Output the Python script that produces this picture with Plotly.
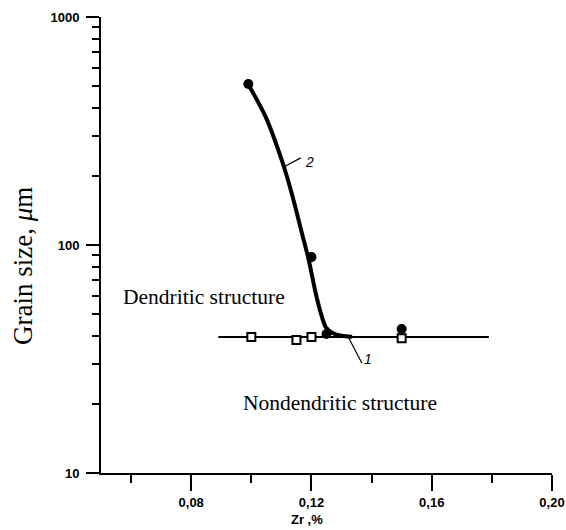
import plotly.graph_objects as go

# ---- data ----
zr_squares = [0.100, 0.115, 0.120, 0.150]
size_squares = [39.5, 38.3, 39.5, 39.0]

zr_circles = [0.099, 0.120, 0.125, 0.150]
size_circles = [508, 88.5, 40.7, 42.8]

line1_zr = [0.089, 0.179]
line1_size = [39.5, 39.5]

curve2_zr = [0.0991, 0.1048, 0.1101, 0.1134, 0.1168, 0.1191, 0.1214, 0.1231, 0.1248, 0.1272, 0.1300, 0.1335]
curve2_size = [503, 364, 236, 169, 113, 86, 61.6, 50.3, 43.5, 41.0, 40.0, 39.6]

leader2_zr = [0.1108, 0.1164]
leader2_size = [220, 241]
leader1_zr = [0.1324, 0.1368]
leader1_size = [39.1, 30.3]

x_major = [0.08, 0.12, 0.16, 0.20]
x_major_labels = ["0,08", "0,12", "0,16", "0,20"]
x_minor = [0.06, 0.10, 0.14, 0.18]
y_major = [10, 100, 1000]
y_major_labels = ["10", "100", "1000"]
y_minor = [20, 30, 40, 50, 60, 70, 80, 90, 200, 300, 400, 500, 600, 700, 800, 900]

SANS = "Liberation Sans, Arial, sans-serif"
SERIF = "Liberation Serif, Times New Roman, serif"

fig = go.Figure()
fig.add_trace(go.Scatter(x=line1_zr, y=line1_size, mode="lines",
                         line=dict(color="black", width=2), hoverinfo="skip"))
fig.add_trace(go.Scatter(x=curve2_zr, y=curve2_size, mode="lines",
                         line=dict(color="black", width=4, shape="spline", smoothing=0.8),
                         hoverinfo="skip"))
fig.add_trace(go.Scatter(x=zr_circles, y=size_circles, mode="markers",
                         marker=dict(symbol="circle", size=10, color="black")))
fig.add_trace(go.Scatter(x=zr_squares, y=size_squares, mode="markers",
                         marker=dict(symbol="square", size=8, color="white",
                                     line=dict(color="black", width=2))))
fig.add_trace(go.Scatter(x=leader2_zr, y=leader2_size, mode="lines",
                         line=dict(color="black", width=1.2), hoverinfo="skip"))
fig.add_trace(go.Scatter(x=leader1_zr, y=leader1_size, mode="lines",
                         line=dict(color="black", width=1.2), hoverinfo="skip"))

annotations = [
    dict(x=0.1192, y=2.364, xref="x", yref="y", text="<i>2</i>", showarrow=False,
         xanchor="center", yanchor="middle",
         font=dict(family=SANS, size=14, color="black")),
    dict(x=0.1388, y=1.5, xref="x", yref="y", text="<i>1</i>", showarrow=False,
         xanchor="center", yanchor="middle",
         font=dict(family=SANS, size=14, color="black")),
    dict(x=0.0844, y=1.772, xref="x", yref="y", text="Dendritic structure", showarrow=False,
         xanchor="center", yanchor="middle",
         font=dict(family=SERIF, size=21.5, color="black")),
    dict(x=0.1295, y=1.307, xref="x", yref="y", text="Nondendritic structure", showarrow=False,
         xanchor="center", yanchor="middle",
         font=dict(family=SERIF, size=21.5, color="black")),
    dict(x=-0.173, y=0.454, xref="paper", yref="paper", text="Grain size, <i>μ</i>m",
         xanchor="center", yanchor="middle",
         textangle=-90, showarrow=False, font=dict(family=SERIF, size=27, color="black")),
    dict(x=0.457, y=-0.103, xref="paper", yref="paper", text="<b>Zr ,%</b>", showarrow=False,
         xanchor="center", yanchor="middle",
         font=dict(family=SANS, size=13, color="black")),
]

fig.update_layout(
    width=566, height=530,
    margin=dict(l=101, r=14, t=17, b=57, autoexpand=False),
    paper_bgcolor="white", plot_bgcolor="white",
    showlegend=False,
    annotations=annotations,
    xaxis=dict(range=[0.05, 0.20], tickmode="array", tickvals=x_major, ticktext=x_major_labels,
               automargin=False,
               ticks="outside", ticklen=16, tickwidth=2, tickcolor="black",
               showline=True, linewidth=2, linecolor="black", showgrid=False, zeroline=False,
               tickfont=dict(family=SANS, size=13, color="black", weight="bold"),
               ticklabelstandoff=0,
               minor=dict(tickmode="array", tickvals=x_minor, ticks="outside", ticklen=8,
                          tickwidth=2, tickcolor="black", showgrid=False)),
    yaxis=dict(type="log", range=[1, 3], tickmode="array", tickvals=y_major, ticktext=y_major_labels,
               automargin=False,
               ticks="outside", ticklen=13, tickwidth=2, tickcolor="black",
               showline=True, linewidth=2, linecolor="black", showgrid=False, zeroline=False,
               tickfont=dict(family=SANS, size=13, color="black", weight="bold"),
               ticklabelstandoff=4,
               minor=dict(tickmode="array", tickvals=y_minor, ticks="outside", ticklen=7,
                          tickwidth=2, tickcolor="black", showgrid=False)),
)

fig.write_html("out.html", config={"displayModeBar": False},
               post_script="document.body.style.margin='0';document.body.style.padding='0';")
